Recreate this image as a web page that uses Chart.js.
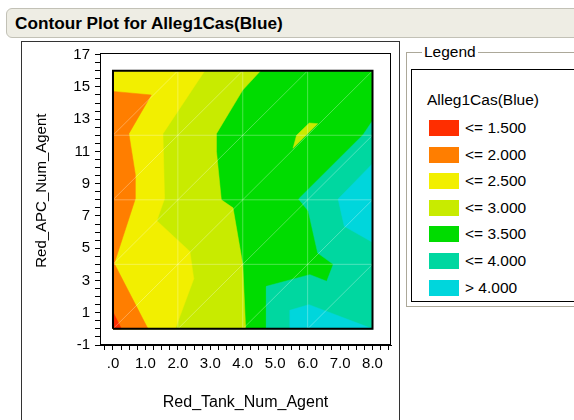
<!DOCTYPE html>
<html>
<head>
<meta charset="utf-8">
<script src="https://cdn.jsdelivr.net/npm/chart.js@4.4.0/dist/chart.umd.min.js"></script>
<style>
  body { margin: 0; width: 574px; height: 420px; background: #fff; position: relative; overflow: hidden;
         font-family: "Liberation Sans", Arial, sans-serif; color: #000; }
  #titleBar { position: absolute; left: 6px; top: 8px; width: 600px; height: 30px; box-sizing: border-box;
              background: #eeede4; border: 1px solid #c2c1b6; border-radius: 6px; }
  #titleBar span { position: absolute; left: 8px; top: 4px; font-weight: bold; font-size: 17.2px; }
  #plotPanel { position: absolute; left: 21px; top: 41px; width: 379px; height: 400px; box-sizing: border-box;
               border: 1px solid #333; }
  #legendGroup { position: absolute; left: 406px; top: 52px; width: 200px; height: 255px; box-sizing: border-box;
                 border: 1px solid #aca899; box-shadow: inset 1px 1px 0 #fff; }
  #legendCaption { position: absolute; left: 422px; top: 43px; padding: 0 2px; background: #fff; font-size: 15.5px; }
  #legendBox { position: absolute; left: 411px; top: 69px; width: 200px; height: 233px; box-sizing: border-box;
               border: 1px solid #000; }
  #legendTitle { position: absolute; left: 15px; top: 21px; font-size: 15.5px; }
  .item { position: absolute; left: 17px; height: 16px; }
  .item i { position: absolute; left: 0; top: 0; width: 30px; height: 16px; }
  .item span { position: absolute; left: 36px; top: -1px; font-size: 15.5px; white-space: nowrap; }
  canvas { position: absolute; left: 0; top: 0; }
</style>
</head>
<body>
<div id="titleBar"><span>Contour Plot for Alleg1Cas(Blue)</span></div>
<div id="plotPanel"></div>
<div id="legendGroup"></div>
<div id="legendCaption">Legend</div>
<div id="legendBox"><div id="legendTitle">Alleg1Cas(Blue)</div></div>
<canvas id="contourChart" width="574" height="420"></canvas>
<script>
// bands of Alleg1Cas(Blue)
const bandLabels = ["<= 1.500", "<= 2.000", "<= 2.500", "<= 3.000", "<= 3.500", "<= 4.000", "> 4.000"];
const bandColors = ["#ff2e00", "#ff7e00", "#f2ef00", "#c8eb00", "#00dc00", "#00d7a0", "#00d6dc"];

// axis ticks
const tankTickValues = [0, 1, 2, 3, 4, 5, 6, 7, 8];
const tankTickLabels = [".0", "1.0", "2.0", "3.0", "4.0", "5.0", "6.0", "7.0", "8.0"];
const apcTickValues = [-1, 1, 3, 5, 7, 9, 11, 13, 15, 17];
const apcTickLabels = ["-1", "1", "3", "5", "7", "9", "11", "13", "15", "17"];

// sample grid (Red_Tank_Num_Agent x Red_APC_Num_Agent)
const gridTank = [0, 2, 4, 6, 8];
const gridApc = [0, 4, 8, 12, 16];

// contour regions, [tank, apc]
const areaAll = [[0, 0], [8, 0], [8, 16], [0, 16]];                       // 3.0 - 3.5
const areaLe300 = [[0, 0], [4.09, 0], [4.0, 4.0], [3.70, 7.5], [3.34, 8.0], [3.19, 11.0],
                   [3.19, 12.1], [4.0, 14.8], [4.55, 16], [0, 16]];
const islandLe300 = [[5.55, 11.2], [5.66, 12.0], [6.05, 12.76], [6.31, 12.72]];
const areaLe250 = [[0, 0], [1.92, 0], [2.49, 3.1], [2.37, 4.8], [1.35, 6.7], [1.59, 8.07],
                   [1.54, 12.1], [2.83, 16], [0, 16]];
const areaLe200 = [[0, 0], [1.08, 0], [0.04, 4.05], [0.69, 8.07], [0.69, 9.56], [0.49, 12.1],
                   [1.18, 14.5], [0, 14.72]];
const areaLe150 = [[0, 0], [0.26, 0], [0, 1.05]];
const areaGt350 = [[8, 12.9], [7.71, 12.04], [5.72, 8.05], [6.02, 7.3], [6.31, 4.7], [6.79, 4.0],
                   [6.59, 2.95], [6.07, 3.36], [4.73, 2.64], [4.73, 0], [8, 0]];
const areaGt400a = [[8, 10.24], [6.94, 8.05], [7.13, 6.36], [8, 5.37]];
const areaGt400b = [[5.45, 0], [5.45, 1.15], [6.04, 1.5], [8, 0]];

function polygon(points, color, order) {
    const pts = points.concat([points[0]]).map(p => ({ x: p[0], y: p[1] }));
    return {
        type: "line",
        data: pts,
        backgroundColor: color,
        borderColor: color,
        borderWidth: 0.5,
        pointRadius: 0,
        fill: "shape",
        tension: 0,
        order: order
    };
}

// mesh lines of the triangulation
const meshPts = [];
gridTank.forEach(x => meshPts.push({ x: x, y: gridApc[0] }, { x: x, y: gridApc[gridApc.length - 1] }, { x: x, y: null }));
gridApc.forEach(y => meshPts.push({ x: gridTank[0], y: y }, { x: gridTank[gridTank.length - 1], y: y }, { x: 0, y: null }));
for (let i = 0; i < gridTank.length - 1; i++) {
    for (let j = 0; j < gridApc.length - 1; j++) {
        meshPts.push({ x: gridTank[i], y: gridApc[j] }, { x: gridTank[i + 1], y: gridApc[j + 1] }, { x: 0, y: null });
    }
}

const datasets = [
    polygon(areaAll, bandColors[4], 20),
    polygon(areaLe300, bandColors[3], 19),
    polygon(islandLe300, bandColors[3], 18),
    polygon(areaLe250, bandColors[2], 17),
    polygon(areaLe200, bandColors[1], 16),
    polygon(areaLe150, bandColors[0], 15),
    polygon(areaGt350, bandColors[5], 14),
    polygon(areaGt400a, bandColors[6], 13),
    polygon(areaGt400b, bandColors[6], 12),
    {
        type: "line", data: meshPts, borderColor: "rgba(255,255,255,0.3)", borderWidth: 1,
        pointRadius: 0, fill: false, spanGaps: false, order: 2
    },
    {
        type: "line", data: areaAll.concat([areaAll[0]]).map(p => ({ x: p[0], y: p[1] })),
        borderColor: "#000", borderWidth: 2, pointRadius: 0, fill: false, order: 1
    }
];

function minorTicks(from, to, step) {
    const out = [];
    for (let v = from; v <= to + 1e-9; v += step) out.push({ value: Math.round(v * 100) / 100 });
    return out;
}

const framePlugin = {
    id: "frame",
    afterDraw(chart) {
        const a = chart.chartArea, ctx = chart.ctx;
        ctx.save();
        ctx.strokeStyle = "#000";
        ctx.lineWidth = 1;
        ctx.strokeRect(a.left + 0.5, a.top + 0.5, a.right - a.left - 1, a.bottom - a.top - 1);
        ctx.restore();
    }
};

const ctx = document.getElementById("contourChart").getContext("2d");
new Chart(ctx, {
    type: "line",
    data: { datasets: datasets },
    plugins: [framePlugin],
    options: {
        responsive: false,
        animation: false,
        layout: { padding: { left: 22, top: 53, right: 183, bottom: 0 } },
        plugins: { legend: { display: false }, tooltip: { enabled: false } },
        scales: {
            x: {
                type: "linear", min: -0.4, max: 8.57,
                afterBuildTicks: s => { s.ticks = minorTicks(-0.25, 8.5, 0.25); },
                afterFit: s => { s.height = 75; },
                ticks: {
                    autoSkip: false, maxRotation: 0, padding: 5, color: "#000",
                    font: { family: "Liberation Sans", size: 15 },
                    callback: v => { const i = tankTickValues.indexOf(v); return i >= 0 ? tankTickLabels[i] : ""; }
                },
                grid: { drawOnChartArea: false, tickLength: 5, tickColor: "#000" },
                border: { color: "#000", width: 1 },
                title: { display: true, text: "Red_Tank_Num_Agent", color: "#000",
                         font: { family: "Liberation Sans", size: 16 }, padding: { top: 0, bottom: 8 } }
            },
            y: {
                type: "linear", min: -1, max: 17.1,
                afterBuildTicks: s => { s.ticks = minorTicks(-1, 17, 0.5); },
                afterFit: s => { s.width = 78; },
                ticks: {
                    autoSkip: false, padding: 5, color: "#000",
                    font: { family: "Liberation Sans", size: 15 },
                    callback: v => { const i = apcTickValues.indexOf(v); return i >= 0 ? apcTickLabels[i] : ""; }
                },
                grid: { drawOnChartArea: false, tickLength: 5, tickColor: "#000" },
                border: { color: "#000", width: 1 },
                // leading spaces lift the rotated title a little, as in the original
                title: { display: true, text: "    Red_APC_Num_Agent", color: "#000",
                         font: { family: "Liberation Sans", size: 15 }, padding: { top: 11, bottom: 0 } }
            }
        }
    }
});

// legend
const box = document.getElementById("legendBox");
bandLabels.forEach((label, i) => {
    const item = document.createElement("div");
    item.className = "item";
    item.style.top = (50 + i * 26.6) + "px";
    item.innerHTML = `<i style="background:${bandColors[i]}"></i><span>${label.replace("<", "&lt;").replace(">", "&gt;")}</span>`;
    box.appendChild(item);
});
</script>
</body>
</html>
